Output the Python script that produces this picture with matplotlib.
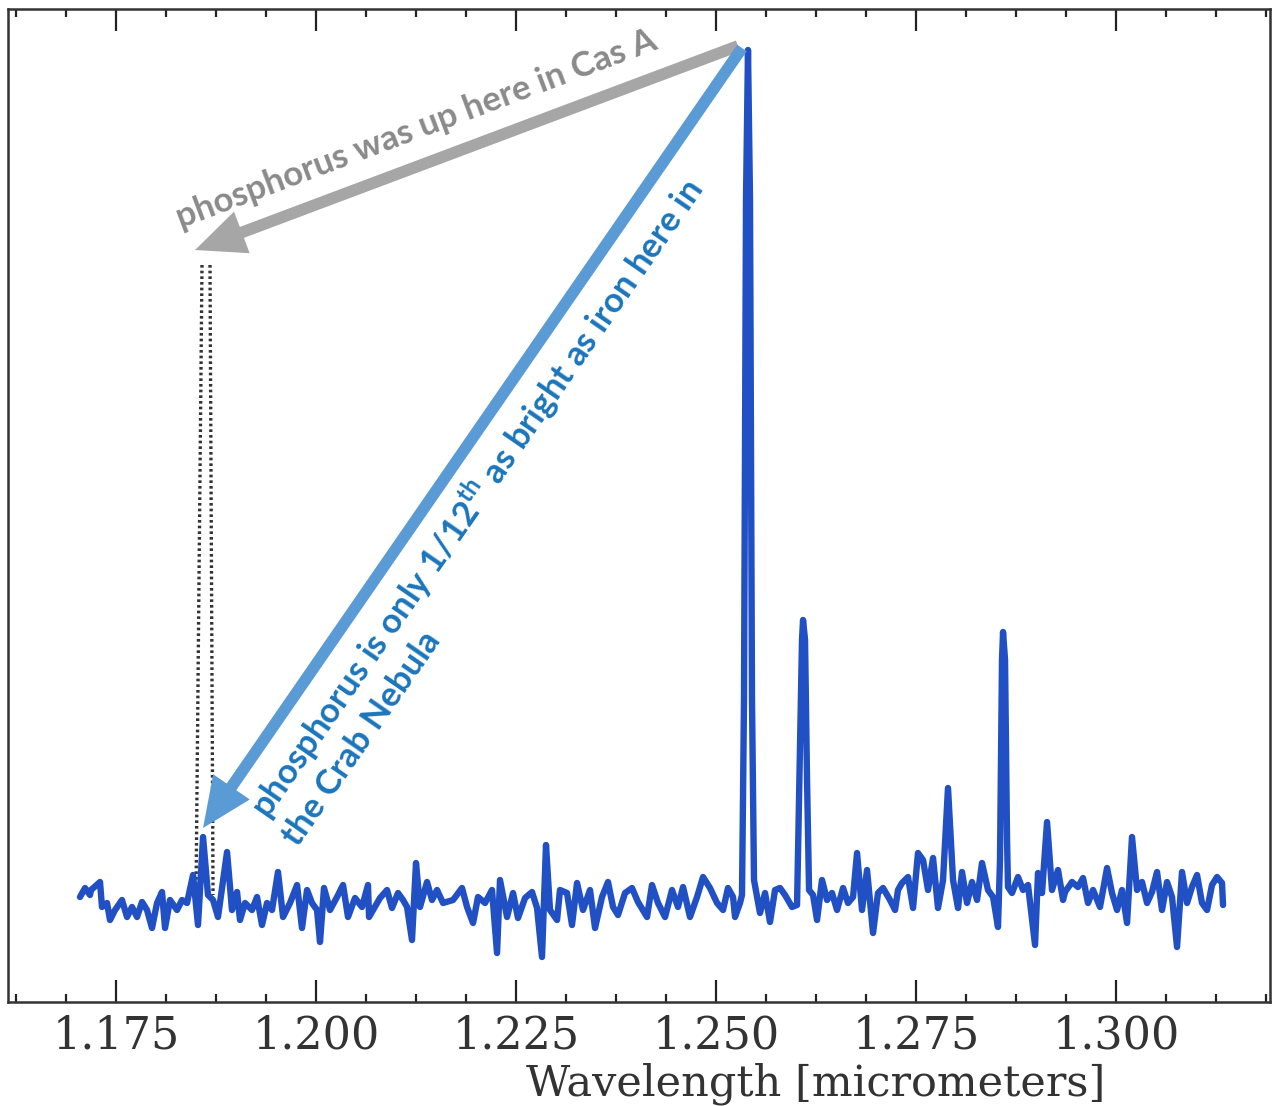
import matplotlib
matplotlib.use('Agg')
import matplotlib.pyplot as plt
from matplotlib.ticker import MultipleLocator, FormatStrFormatter, FixedLocator

plt.rcParams['mathtext.fontset'] = 'custom'
plt.rcParams['mathtext.rm'] = 'Lato:bold'

# Spectrum (wavelength in micrometers, relative flux, arbitrary units)
wavelength = [
    1.17050, 1.17113, 1.17175, 1.17188, 1.17300, 1.17325, 1.17388, 1.17425, 1.17488, 1.17575,
    1.17638, 1.17700, 1.17763, 1.17825, 1.17888, 1.17950, 1.18013, 1.18075, 1.18113, 1.18175,
    1.18263, 1.18325, 1.18388, 1.18463, 1.18525, 1.18588, 1.18650, 1.18713, 1.18775, 1.18888,
    1.18950, 1.19013,
    1.19050, 1.19113, 1.19200, 1.19263, 1.19325, 1.19388, 1.19450, 1.19525, 1.19588, 1.19675,
    1.19763, 1.19825, 1.19888, 1.19950, 1.20013, 1.20050, 1.20100, 1.20175, 1.20263, 1.20338,
    1.20400, 1.20488, 1.20575, 1.20650, 1.20663, 1.20800, 1.20888, 1.20950, 1.21025, 1.21088,
    1.21138, 1.21200, 1.21250, 1.21300, 1.21388, 1.21450, 1.21513, 1.21588, 1.21713, 1.21825,
    1.21888, 1.21963, 1.22025, 1.22113, 1.22200, 1.22263, 1.22300, 1.22388, 1.22463, 1.22525,
    1.22613, 1.22700, 1.22763, 1.22825, 1.22875, 1.22925, 1.23013, 1.23050, 1.23138,
    1.23200, 1.23263, 1.23338, 1.23425, 1.23488, 1.23575, 1.23650, 1.23713, 1.23775, 1.23863,
    1.23950, 1.24025, 1.24138, 1.24200, 1.24275, 1.24363, 1.24450, 1.24525, 1.24588, 1.24675,
    1.24763, 1.24838, 1.24925, 1.25013, 1.25088, 1.25150, 1.25213,
    1.25238, 1.25300, 1.25325, 1.25350, 1.25375, 1.25400, 1.25425, 1.25450, 1.25475,
    1.25550, 1.25613, 1.25675, 1.25738, 1.25800, 1.25863, 1.25950, 1.26013, 1.26050, 1.26075,
    1.26088, 1.26113, 1.26138, 1.26163, 1.26213, 1.26263, 1.26325, 1.26388, 1.26450, 1.26513,
    1.26588, 1.26650, 1.26713, 1.26763, 1.26825, 1.26888, 1.26963, 1.27025, 1.27088, 1.27175,
    1.27238,
    1.27275, 1.27325, 1.27400, 1.27463, 1.27525, 1.27588, 1.27650, 1.27713, 1.27775, 1.27838,
    1.27900, 1.27963, 1.28025, 1.28075, 1.28138, 1.28200, 1.28263, 1.28325, 1.28400, 1.28463,
    1.28525, 1.28550, 1.28575, 1.28588, 1.28613, 1.28638, 1.28650, 1.28700, 1.28775, 1.28838,
    1.28900, 1.28988, 1.29025, 1.29075, 1.29138, 1.29200, 1.29275, 1.29338,
    1.29363, 1.29450, 1.29525, 1.29588, 1.29650, 1.29713, 1.29800, 1.29888, 1.29950, 1.30013,
    1.30075, 1.30138, 1.30200, 1.30263, 1.30325, 1.30388, 1.30450, 1.30513, 1.30575, 1.30638,
    1.30700, 1.30763, 1.30825, 1.30888, 1.30950, 1.31013, 1.31075, 1.31138, 1.31200, 1.31263,
    1.31325, 1.31338,
]
flux = [
    0.03, 0.12, 0.05, 0.10, 0.18, -0.07, -0.03, -0.20, -0.10, 0.00,
    -0.17, -0.07, -0.17, -0.02, -0.10, -0.28, -0.03, 0.08, -0.28, 0.00,
    -0.10, 0.00, -0.03, 0.25, -0.25, 0.63, 0.05, 0.00, -0.17, 0.48,
    -0.10, 0.08,
    -0.20, -0.03, -0.10, 0.03, -0.25, -0.03, -0.10, 0.28, -0.17, -0.03,
    0.15, -0.28, 0.10, -0.03, -0.10, -0.42, 0.12, -0.10, 0.03, 0.15,
    -0.17, 0.02, -0.07, 0.15, -0.17, 0.02, 0.10, -0.08, 0.07, 0.00,
    -0.07, -0.40, 0.37, -0.07, 0.18, 0.00, 0.10, -0.03, 0.00, 0.12,
    -0.07, -0.23, 0.03, -0.03, 0.10, -0.53, 0.20, -0.17, 0.07, -0.18,
    0.02, 0.08, -0.08, -0.57, 0.55, -0.10, -0.20, 0.10, 0.07,
    -0.25, 0.17, -0.10, 0.10, -0.28, 0.03, 0.18, -0.07, -0.15, 0.07,
    0.12, -0.02, -0.17, 0.15, -0.03, -0.17, 0.10, -0.07, 0.13, -0.17,
    0.03, 0.23, 0.12, -0.03, -0.10, 0.12, 0.03,
    -0.17, -0.03, 0.05, 2.00, 7.00, 8.50, 7.00, 2.00, 0.20,
    -0.13, 0.07, -0.22, 0.10, 0.12, 0.05, -0.07, -0.05, 1.50, 2.60,
    2.80, 2.60, 1.20, 0.10, 0.05, -0.20, 0.20, 0.00, 0.07, -0.10,
    0.12, -0.03, 0.03, 0.47, -0.10, 0.30, -0.33, 0.07, 0.12, 0.00,
    -0.10,
    0.10, 0.17, 0.23, -0.08, 0.47, 0.40, 0.10, 0.42, -0.08, 0.20,
    1.12, 0.20, -0.08, 0.28, -0.03, 0.18, 0.00, 0.37, 0.10, 0.03,
    -0.27, 0.40, 2.40, 2.68, 2.40, 0.60, 0.13, 0.07, 0.23, 0.10,
    0.15, -0.45, 0.27, 0.07, 0.78, 0.10, 0.30, 0.00,
    0.08, 0.18, 0.13, 0.22, -0.03, 0.10, -0.07, 0.32, 0.07, -0.10,
    0.10, -0.23, 0.63, 0.10, 0.18, -0.03, 0.08, 0.28, -0.10, 0.18,
    0.03, -0.47, 0.28, -0.03, 0.13, 0.25, -0.03, -0.10, 0.15, 0.23,
    0.17, -0.05,
]

tick_values = [1.175, 1.200, 1.225, 1.250, 1.275, 1.300]
x_label = "Wavelength [micrometers]"
cas_a_text = "phosphorus was up here in Cas A"
crab_line1 = r"phosphorus is only 1/12$^{\mathrm{th}}$ as bright as iron here in"
crab_line2 = "the Crab Nebula"

fig = plt.figure(figsize=(12.74, 11.06), dpi=100)
ax = fig.add_axes([8 / 1274, (1106 - 1002) / 1106, 1262 / 1274, 993 / 1106])

ax.plot(wavelength, flux, color='#2150c4', lw=4.6, solid_joinstyle='round',
        solid_capstyle='round', zorder=3)

ax.set_xlim(1.1615, 1.31925)
ax.set_ylim(-1.02, 8.91)

ax.xaxis.set_major_locator(FixedLocator(tick_values))
ax.xaxis.set_minor_locator(MultipleLocator(0.00625))
ax.xaxis.set_major_formatter(FormatStrFormatter('%.3f'))
ax.tick_params(axis='x', which='both', direction='in', top=True, bottom=True,
               color='#222222', width=1.6)
ax.tick_params(axis='x', which='major', length=16, pad=9, labelsize=32,
               labelcolor='#333333')
ax.tick_params(axis='x', which='minor', length=6)
ax.tick_params(axis='y', which='both', left=False, right=False,
               labelleft=False, labelright=False)
for lbl in ax.get_xticklabels():
    lbl.set_fontfamily('DejaVu Serif')

for sp in ax.spines.values():
    sp.set_color('#333333')
    sp.set_linewidth(1.8)

ax.set_xlabel(x_label, fontsize=31, family='DejaVu Serif', color='#333333')
ax.xaxis.set_label_coords(0.64, -0.061)

# dotted markers showing where phosphorus was in Cas A
ax.plot([1.18575, 1.18500], [6.35, 0.05], color='#333333', lw=2.4,
        linestyle=(0, (0.8, 0.9)), zorder=2)
ax.plot([1.18675, 1.18713], [6.35, 0.05], color='#333333', lw=2.4,
        linestyle=(0, (0.8, 0.9)), zorder=2)

# gray arrow
ax.annotate('', xy=(1.18488, 6.50), xytext=(1.25275, 8.54),
            arrowprops=dict(arrowstyle='simple,head_length=0.9,head_width=0.8,tail_width=0.21',
                            mutation_scale=40, color='#a6a6a6', lw=0,
                            shrinkA=0, shrinkB=0), zorder=4)
# blue arrow
ax.annotate('', xy=(1.18588, 0.72), xytext=(1.25325, 8.52),
            arrowprops=dict(arrowstyle='simple,head_length=0.9,head_width=0.8,tail_width=0.21',
                            mutation_scale=40, color='#5b9bd5', lw=0,
                            shrinkA=0, shrinkB=0), zorder=5)

ax.text(1.18310, 6.72, cas_a_text, rotation=20.6, rotation_mode='anchor',
        ha='left', va='baseline', fontsize=25, family='Lato', weight='bold',
        color='#8a8a8a', zorder=6)
ax.text(1.19400, 0.80, crab_line1, rotation=55.3, rotation_mode='anchor',
        ha='left', va='baseline', fontsize=25, family='Lato', weight='bold',
        color='#1b75bb', zorder=6)
ax.text(1.19780, 0.52, crab_line2, rotation=55.3, rotation_mode='anchor',
        ha='left', va='baseline', fontsize=25, family='Lato', weight='bold',
        color='#1b75bb', zorder=6)

fig.savefig('out.png', dpi=100)
